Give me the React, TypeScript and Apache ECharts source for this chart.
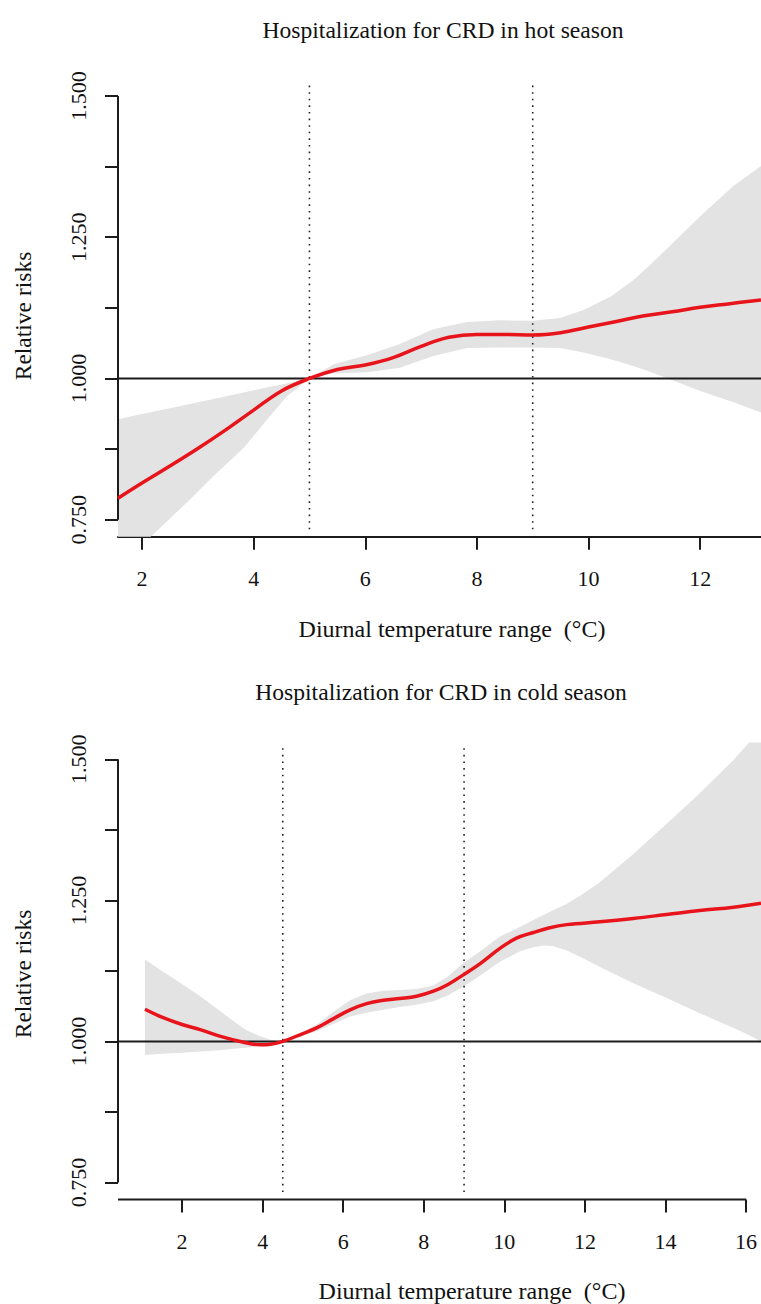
import React, { useEffect, useRef } from "react";
import * as echarts from "echarts";

// ---------- data ----------
const hotRange = [1.57, 13.09];
const coldRange = [0.41, 16.37];
const yRange = [0.72, 1.53];

const xTicksHot = [2, 4, 6, 8, 10, 12];
const xTicksCold = [2, 4, 6, 8, 10, 12, 14, 16];
const yTicks = [0.75, 0.875, 1.0, 1.125, 1.25, 1.375, 1.5];
const yLabels = [0.75, 1.0, 1.25, 1.5];

const hotCuts = [5, 9];
const coldCuts = [4.5, 9];

const hotLineX = [1.57, 2, 2.5, 3, 3.5, 4, 4.5, 5, 5.5, 6, 6.5, 7, 7.5, 8, 8.5, 9, 9.5, 10, 10.5, 11, 11.5, 12, 12.5, 13.09];
const hotLineY = [0.788, 0.815, 0.845, 0.876, 0.909, 0.944, 0.978, 1.0, 1.016, 1.024, 1.037, 1.057, 1.073, 1.078, 1.078, 1.077, 1.081, 1.091, 1.101, 1.111, 1.118, 1.126, 1.132, 1.139];

const hotBandX = [1.57, 2.0, 2.2, 2.86, 3.3, 3.82, 4.23, 4.59, 5.0, 5.43, 6.03, 6.62, 7.22, 7.82, 8.42, 9.0, 9.49, 9.91, 10.4, 10.8, 11.1, 11.4, 12.0, 12.6, 13.09];
const hotUpper = [0.928, 0.937, 0.941, 0.955, 0.964, 0.975, 0.984, 0.991, 1.0, 1.025, 1.041, 1.061, 1.087, 1.1, 1.103, 1.102, 1.107, 1.121, 1.145, 1.174, 1.201, 1.229, 1.287, 1.341, 1.376];
const hotLower = [0.665, 0.705, 0.724, 0.786, 0.829, 0.877, 0.926, 0.968, 1.0, 1.009, 1.011, 1.019, 1.04, 1.054, 1.055, 1.055, 1.054, 1.046, 1.034, 1.022, 1.012, 1.001, 0.978, 0.958, 0.94];

const coldLineX = [1.08, 1.5, 2, 2.45, 3, 3.5, 3.94, 4.2, 4.5, 5, 5.34, 5.75, 6.17, 6.58, 7, 7.4, 7.82, 8.24, 8.6, 8.98, 9.4, 9.89, 10.3, 10.72, 11.1, 11.55, 12.37, 13.2, 14.03, 14.85, 15.69, 16.37];
const coldLineY = [1.057, 1.043, 1.03, 1.021, 1.008, 0.999, 0.994, 0.995, 1.0, 1.014, 1.024, 1.04, 1.056, 1.067, 1.073, 1.076, 1.08, 1.089, 1.101, 1.118, 1.138, 1.165, 1.183, 1.193, 1.201, 1.207, 1.212, 1.218, 1.225, 1.232, 1.238, 1.245];

const coldBandX = [1.08, 1.5, 2.0, 2.45, 3.0, 3.27, 3.6, 3.94, 4.2, 4.5, 4.9, 5.34, 5.75, 6.17, 6.58, 7.0, 7.4, 7.82, 8.24, 8.6, 8.98, 9.4, 9.89, 10.39, 10.72, 10.97, 11.2, 11.55, 11.9, 12.37, 13.2, 14.03, 14.85, 15.69, 16.05, 16.37];
const coldUpper = [1.145, 1.125, 1.102, 1.08, 1.051, 1.036, 1.02, 1.009, 1.003, 1.0, 1.012, 1.03, 1.052, 1.073, 1.085, 1.09, 1.091, 1.093, 1.099, 1.115, 1.139, 1.16, 1.186, 1.203, 1.215, 1.224, 1.232, 1.244, 1.259, 1.282, 1.332, 1.386, 1.44, 1.499, 1.528, 1.55];
const coldLower = [0.976, 0.978, 0.98, 0.982, 0.985, 0.987, 0.989, 0.992, 0.995, 1.0, 1.008, 1.018, 1.031, 1.044, 1.051, 1.056, 1.061, 1.065, 1.071, 1.082, 1.097, 1.117, 1.141, 1.16, 1.167, 1.17, 1.169, 1.161, 1.149, 1.132, 1.103, 1.077, 1.05, 1.024, 1.012, 1.0];

const titles = ["Hospitalization for CRD in hot season", "Hospitalization for CRD in cold season"];
const xName = "Diurnal temperature range\u00a0\u00a0(°C)";
const yName = "Relative risks";

// ---------- styling ----------
const FONT = "'Liberation Serif', 'Times New Roman', serif";
const AX = "#1c1c1c";
const RED = "#e8141b";
const BAND = "#e3e3e3";

const zip = (xs: number[], ys: number[]) => xs.map((x, i) => [x, ys[i]]);

function band(idx: number, xs: number[], lo: number[], hi: number[]) {
  return {
    type: "custom",
    xAxisIndex: idx,
    yAxisIndex: idx,
    clip: true,
    silent: true,
    z: 1,
    data: [[xs[0], lo[0]]],
    renderItem: (params: any, api: any) => {
      const pts: number[][] = [];
      for (let i = 0; i < xs.length; i++) pts.push(api.coord([xs[i], hi[i]]));
      for (let i = xs.length - 1; i >= 0; i--) pts.push(api.coord([xs[i], lo[i]]));
      return { type: "polygon", shape: { points: pts }, style: { fill: BAND } };
    },
  };
}

function line(idx: number, data: number[][], color: string, width: number, opts: any = {}) {
  return {
    type: "line",
    xAxisIndex: idx,
    yAxisIndex: idx,
    data,
    showSymbol: false,
    symbol: "none",
    silent: true,
    lineStyle: { color, width, type: opts.type || "solid" },
    smooth: opts.smooth || false,
    clip: opts.clip !== undefined ? opts.clip : true,
    z: opts.z || 3,
  };
}

function xAxis(idx: number, range: number[], ticks: number[], showLine: boolean) {
  return {
    type: "value",
    gridIndex: idx,
    min: range[0],
    max: range[1],
    axisLine: { show: showLine, onZero: false, lineStyle: { color: AX, width: 2 } },
    axisTick: { show: true, customValues: ticks, length: 13, lineStyle: { color: AX, width: 2 } },
    axisLabel: { customValues: ticks, margin: 31, fontSize: 22, fontFamily: FONT, color: "#111" },
    splitLine: { show: false },
  };
}

function yAxis(idx: number) {
  return {
    type: "value",
    gridIndex: idx,
    min: yRange[0],
    max: yRange[1],
    axisLine: { show: false },
    axisTick: { show: true, customValues: yTicks, length: 13, lineStyle: { color: AX, width: 2 } },
    axisLabel: {
      customValues: yLabels,
      rotate: 90,
      margin: 29,
      fontSize: 22,
      fontFamily: FONT,
      color: "#111",
      formatter: (v: number) => v.toFixed(3),
    },
    splitLine: { show: false },
  };
}

function panel(idx: number, range: number[], cuts: number[], lx: number[], ly: number[], bx: number[], lo: number[], hi: number[], axisEnd: number | null) {
  const s: any[] = [band(idx, bx, lo, hi)];
  s.push(line(idx, [[range[0], 1], [range[1], 1]], AX, 2, { z: 2 }));
  cuts.forEach((c) => s.push(line(idx, [[c, 0.733], [c, 1.52]], "#222", 1.6, { type: [1.6, 5], z: 2 })));
  s.push(line(idx, [[range[0], yTicks[0]], [range[0], yTicks[yTicks.length - 1]]], AX, 2, { clip: false, z: 4 }));
  if (axisEnd !== null) s.push(line(idx, [[range[0], yRange[0]], [axisEnd, yRange[0]]], AX, 2, { clip: false, z: 4 }));
  s.push(line(idx, zip(lx, ly), RED, 3.5, { smooth: 0.4, z: 5 }));
  return s;
}

function text(x: number, y: number, t: string, size: number, rot = 0) {
  return {
    type: "text",
    x,
    y,
    rotation: rot,
    silent: true,
    style: { text: t, fontSize: size, fontFamily: FONT, fill: "#111", align: "center", verticalAlign: "middle" },
  };
}

export default function App() {
  const ref = useRef<HTMLDivElement>(null);
  useEffect(() => {
    const chart = echarts.init(ref.current!, null, { renderer: "svg" });
    chart.setOption({
      animation: false,
      backgroundColor: "#ffffff",
      grid: [
        { left: 118, top: 79, width: 643, height: 457.7 },
        { left: 118, top: 742.4, width: 643, height: 457 },
      ],
      xAxis: [xAxis(0, hotRange, xTicksHot, true), xAxis(1, coldRange, xTicksCold, false)],
      yAxis: [yAxis(0), yAxis(1)],
      series: [
        ...panel(0, hotRange, hotCuts, hotLineX, hotLineY, hotBandX, hotLower, hotUpper, null),
        ...panel(1, coldRange, coldCuts, coldLineX, coldLineY, coldBandX, coldLower, coldUpper, 16),
      ],
      graphic: [
        text(443, 29.5, titles[0], 23.6),
        text(441, 692, titles[1], 23.6),
        text(452, 629, xName, 24),
        text(472, 1291, xName, 24),
        text(23, 316, yName, 23.5, Math.PI / 2),
        text(23, 974, yName, 23.5, Math.PI / 2),
      ],
    });
    return () => chart.dispose();
  }, []);
  return <div ref={ref} style={{ position: "absolute", left: 0, top: 0, width: 761, height: 1304 }} />;
}
